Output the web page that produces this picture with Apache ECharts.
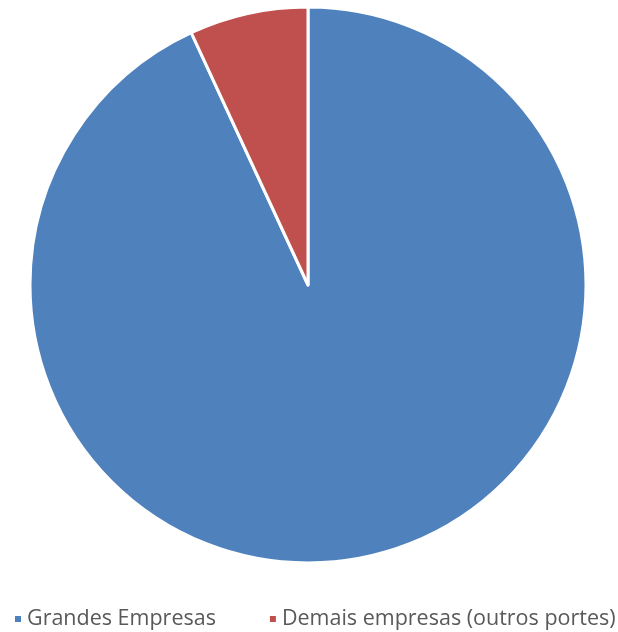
<!DOCTYPE html>
<html>
<head>
<meta charset="utf-8">
<style>
  html, body { margin: 0; padding: 0; background: #ffffff; }
  #chart { width: 618px; height: 632px; }
</style>
<script src="https://cdn.jsdelivr.net/npm/echarts@6/dist/echarts.min.js"></script>
</head>
<body>
<div id="chart"></div>
<script>
// Share of companies by size
const categories = ['Grandes Empresas', 'Demais empresas (outros portes)'];
const shares = [93.1, 6.9];
const colors = ['#4F81BD', '#C0504D'];

const chart = echarts.init(document.getElementById('chart'), null, { renderer: 'canvas' });

chart.setOption({
  backgroundColor: '#ffffff',
  animation: false,
  color: colors,
  legend: {
    data: categories,
    left: 13,
    top: 608,
    width: 640,
    padding: 0,
    icon: 'rect',
    itemWidth: 8,
    itemHeight: 8,
    itemGap: 52,
    textStyle: {
      fontFamily: 'Open Sans',
      fontSize: 21.5,
      color: '#595959'
    }
  },
  series: [{
    type: 'pie',
    center: [308, 285],
    radius: [0, 278],
    startAngle: 90,
    clockwise: true,
    label: { show: false },
    labelLine: { show: false },
    itemStyle: { borderColor: '#ffffff', borderWidth: 3 },
    emphasis: { disabled: true },
    data: categories.map((name, i) => ({ name, value: shares[i] }))
  }]
});
</script>
</body>
</html>
